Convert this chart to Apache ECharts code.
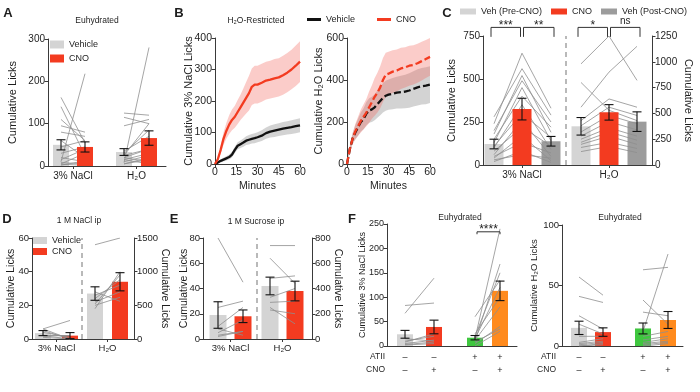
<!DOCTYPE html>
<html><head><meta charset="utf-8">
<script src="https://cdn.jsdelivr.net/npm/echarts@6/dist/echarts.min.js"></script>
<style>html,body{margin:0;padding:0;background:#fff}#c{width:700px;height:392px}</style>
</head><body><div id="c"></div>
<script>
// ================= DATA =================
const groupLabels = ['3% NaCl', 'H\u2082O'];
// Panel A (Euhydrated)
const aVehMean = [50, 33], aVehSem = [12, 8];
const aCnoMean = [45, 66], aCnoSem = [12, 17];
const aNaclVeh = [162, 140, 110, 95, 80, 60, 45, 30, 20, 15, 10, 8, 5, 4, 2];
const aNaclCno = [55, 25, 60, 80, 70, 20, 60, 45, 10, 40, 218, 5, 30, 2, 12];
const aH2oVeh = [125, 115, 95, 35, 25, 30, 25, 20, 15, 10, 8, 5, 20, 15, 5];
const aH2oCno = [120, 100, 110, 70, 100, 85, 40, 40, 30, 25, 280, 15, 10, 5, 20];
// Panel B (H2O-restricted time course)
const bMinutes = [0, 2, 4, 6, 8, 10, 12, 14, 16, 18, 20, 22, 24, 26, 28, 30, 33, 36, 39, 42, 45, 48, 51, 54, 57, 60];
const bNaclVeh = [0, 5, 10, 14, 18, 22, 30, 45, 58, 63, 68, 74, 77, 80, 82, 85, 90, 98, 103, 106, 109, 112, 115, 117, 120, 123];
const bNaclVehSem = [0, 3, 5, 6, 7, 8, 9, 10, 11, 12, 13, 14, 15, 15, 16, 16, 17, 18, 19, 20, 20, 21, 21, 22, 22, 22];
const bNaclCno = [0, 15, 45, 80, 105, 125, 140, 150, 165, 180, 195, 210, 225, 245, 252, 252, 258, 265, 268, 272, 275, 282, 290, 300, 312, 325];
const bNaclCnoSem = [0, 5, 12, 20, 25, 30, 33, 35, 38, 40, 45, 50, 55, 58, 60, 60, 60, 60, 60, 61, 61, 62, 62, 63, 64, 65];
const bH2oVeh = [0, 70, 120, 150, 175, 200, 215, 240, 255, 260, 270, 285, 300, 315, 325, 330, 335, 340, 342, 345, 350, 358, 365, 370, 373, 378];
const bH2oVehSem = [0, 15, 25, 35, 40, 45, 50, 55, 58, 60, 62, 65, 68, 70, 72, 72, 74, 76, 78, 80, 82, 84, 86, 87, 88, 88];
const bH2oCno = [0, 70, 120, 155, 180, 205, 225, 245, 270, 295, 320, 340, 365, 400, 425, 430, 440, 445, 455, 460, 468, 472, 480, 490, 500, 510];
const bH2oCnoSem = [0, 15, 25, 35, 45, 55, 60, 65, 75, 80, 90, 95, 100, 105, 105, 105, 102, 100, 98, 96, 95, 94, 93, 92, 91, 90];
// Panel C (NaCl on left axis, H2O on right axis)
const cPreMean = [122, 375], cPreSem = [28, 85];
const cCnoMean = [325, 510], cCnoSem = [63, 75];
const cPostMean = [138, 420], cPostSem = [28, 95];
const cNaclPre = [280, 240, 200, 180, 150, 130, 110, 100, 80, 60, 50, 40, 30, 20];
const cNaclCno = [560, 650, 490, 520, 400, 450, 300, 350, 220, 260, 130, 170, 60, 80];
const cNaclPost = [290, 330, 250, 190, 220, 140, 160, 90, 110, 50, 70, 25, 40, 15];
const cH2oPre = [980, 800, 560, 430, 380, 320, 280, 250, 220, 200, 170, 130];
const cH2oCno = [1250, 530, 900, 640, 560, 480, 420, 360, 320, 280, 220, 180];
const cH2oPost = [820, 430, 1150, 560, 480, 400, 340, 280, 240, 200, 160, 120];
const cSig = ['***', '**', '*', 'ns'];
// Panel D (1 M NaCl ip) NaCl left axis, H2O right axis
const dVehMean = [3.5, 675], dVehSem = [1.5, 100];
const dCnoMean = [2, 850], dCnoSem = [1.8, 135];
const dNaclVeh = [6, 5, 4, 6, 2, 1, 2, 2];
const dNaclCno = [11, 0, 1, 0, 0, 0, 2, 2];
const dH2oVeh = [1400, 450, 520, 600, 650, 700, 550, 500];
const dH2oCno = [1500, 1000, 950, 880, 800, 560, 700, 620];
// Panel E (1 M Sucrose ip)
const eVehMean = [19, 420], eVehSem = [10.5, 70];
const eCnoMean = [18, 380], eCnoSem = [5, 78];
const eNaclVeh = [80, 25, 10, 5, 3, 8, 2];
const eNaclCno = [45, 30, 25, 15, 6, 3, 6];
const eH2oVeh = [740, 640, 480, 330, 290, 230, 250];
const eH2oCno = [740, 440, 500, 400, 300, 200, 120];
// Panel F
const fAtii = ['\u2013', '\u2013', '+', '+'];
const fCno = ['\u2013', '+', '\u2013', '+'];
const f1Mean = [24, 39, 17, 113], f1Sem = [8, 14, 4.5, 20];
const f1Veh = [67, 83, 10, 8, 5, 15, 3, 2];
const f1Cno = [139, 88, 20, 25, 12, 10, 8, 5];
const f1Atii = [15, 10, 20, 60, 15, 25, 12, 5, 8, 0];
const f1AtiiCno = [240, 168, 150, 135, 120, 100, 80, 40, 35, 30];
const f2Mean = [15, 11.5, 14.5, 21.5], f2Sem = [5.5, 3.5, 4.5, 7];
const f2Veh = [57, 41, 25, 18, 8, 3, 2, 1, 0, 0];
const f2Cno = [42, 36, 14, 10, 8, 6, 4, 3, 2, 1];
const f2Atii = [63, 38, 28, 12, 8, 5, 3, 2, 1, 0];
const f2AtiiCno = [65, 18, 25, 76, 12, 8, 6, 4, 3, 2];

// ================= STYLE / BUILDERS =================
const FONT = "'Liberation Sans', Arial, Helvetica, sans-serif";
const INK = '#1e1e1e', AXIS = '#3a3a3a';
const COL = {veh: '#d4d4d4', cno: '#f33b20', post: '#9c9c9c', green: '#3fc73f', orange: '#ff8a1d', line: '#8e8e8e'};

const opt = {animation: false, backgroundColor: '#fff', textStyle: {fontFamily: FONT},
  grid: [], xAxis: [], yAxis: [], series: [], legend: [], graphic: []};

function addGrid(l, t, w, h) { opt.grid.push({left: l, top: t, width: w, height: h, containLabel: false}); return opt.grid.length - 1; }

function addY(g, c) {
  opt.yAxis.push({type: 'value', gridIndex: g, min: 0, max: c.max, interval: c.step, position: c.right ? 'right' : 'left',
    axisLine: {show: true, onZero: false, lineStyle: {color: AXIS, width: 1}},
    axisTick: {show: true, length: 3.5, lineStyle: {color: AXIS, width: 1}},
    axisLabel: {color: INK, fontSize: c.fs, margin: 3, fontFamily: FONT, formatter: function (v) { return String(v); }},
    splitLine: {show: false},
    name: c.name, nameLocation: 'middle', nameGap: c.gap, nameRotate: c.right ? -90 : 90, nameMoveOverlap: false,
    nameTextStyle: {color: INK, fontSize: c.nfs, fontFamily: FONT}});
  return opt.yAxis.length - 1;
}

function addXGroups(g, w, centers, labels, fs, lh) {
  opt.xAxis.push({type: 'value', gridIndex: g, min: 0, max: w,
    axisLine: {show: true, onZero: false, lineStyle: {color: AXIS, width: 1}},
    axisTick: {show: !lh, customValues: centers, length: 3, lineStyle: {color: AXIS}},
    axisLabel: {customValues: centers, color: INK, fontSize: fs, fontFamily: FONT, margin: lh ? 5 : 4,
      lineHeight: lh || fs + 2,
      formatter: function (v) { const i = centers.indexOf(v); return i < 0 ? '' : labels[i]; }},
    splitLine: {show: false}});
  return opt.xAxis.length - 1;
}

function addTimeX(g) {
  opt.xAxis.push({type: 'value', gridIndex: g, min: 0, max: 60, interval: 15,
    axisLine: {show: true, onZero: false, lineStyle: {color: AXIS, width: 1}},
    axisTick: {show: true, length: 3.5, lineStyle: {color: AXIS}},
    axisLabel: {color: INK, fontSize: 10.5, margin: 3, fontFamily: FONT},
    splitLine: {show: false},
    name: 'Minutes', nameLocation: 'middle', nameGap: 17, nameMoveOverlap: false,
    nameTextStyle: {color: INK, fontSize: 10.5, fontFamily: FONT}});
  return opt.xAxis.length - 1;
}

function addBars(name, x, y, xs, vals, color, w, z) {
  opt.series.push({type: 'bar', name: name, xAxisIndex: x, yAxisIndex: y, barWidth: w, barGap: '-100%', z: z, silent: true,
    itemStyle: {color: color}, data: xs.map((p, i) => [p, vals[i]])});
}

function errRender(p, api) {
  const x = api.value(0);
  const a = api.coord([x, api.value(1)]), b = api.coord([x, api.value(2)]);
  const c = 4.5, st = {stroke: '#111', lineWidth: 1.1};
  return {type: 'group', children: [
    {type: 'line', shape: {x1: a[0], y1: a[1], x2: b[0], y2: b[1]}, style: st},
    {type: 'line', shape: {x1: a[0] - c, y1: a[1], x2: a[0] + c, y2: a[1]}, style: st},
    {type: 'line', shape: {x1: b[0] - c, y1: b[1], x2: b[0] + c, y2: b[1]}, style: st}]};
}
function addErr(x, y, xs, means, sems) {
  opt.series.push({type: 'custom', xAxisIndex: x, yAxisIndex: y, z: 6, silent: true, clip: false,
    encode: {x: 0, y: [1, 2]}, renderItem: errRender,
    data: xs.map((p, i) => [p, means[i] - sems[i], means[i] + sems[i]])});
}

function addPairs(x, y, xs, arrays, z) {
  const n = arrays[0].length;
  for (let s = 0; s < n; s++) {
    opt.series.push({type: 'line', xAxisIndex: x, yAxisIndex: y, symbol: 'none', silent: true, z: z || 2,
      lineStyle: {color: COL.line, width: 0.8}, data: xs.map((p, k) => [p, arrays[k][s]])});
  }
}

function addSep(x, y, pos, max) {
  opt.series.push({type: 'line', xAxisIndex: x, yAxisIndex: y, symbol: 'none', silent: true, z: 1,
    lineStyle: {color: '#8a8a8a', width: 1.2, type: [5, 4]}, data: [[pos, 0], [pos, max]]});
}

function addBracket(x, y, x1, x2, top, leg, text, fs, dy) {
  opt.series.push({type: 'custom', xAxisIndex: x, yAxisIndex: y, z: 7, silent: true, clip: false,
    encode: {x: [0, 2], y: [1, 3]}, data: [[x1, top, x2, leg]],
    renderItem: function (p, api) {
      const a = api.coord([api.value(0), api.value(3)]), b = api.coord([api.value(0), api.value(1)]);
      const c = api.coord([api.value(2), api.value(1)]), d = api.coord([api.value(2), api.value(3)]);
      return {type: 'group', children: [
        {type: 'polyline', shape: {points: [a, b, c, d]}, style: {stroke: '#333', lineWidth: 1, fill: null}},
        {type: 'text', x: (b[0] + c[0]) / 2, y: b[1] + dy,
          style: {text: text, fill: INK, font: fs + 'px ' + FONT, textAlign: 'center', align: 'center',
            textVerticalAlign: 'bottom', verticalAlign: 'bottom'}}]};
    }});
}

function addBand(x, y, ts, mean, sem, fill) {
  const n = ts.length;
  opt.series.push({type: 'custom', xAxisIndex: x, yAxisIndex: y, z: 1, silent: true,
    encode: {x: 0, y: [1, 2]}, data: ts.map((t, i) => [t, mean[i] - sem[i], mean[i] + sem[i]]),
    renderItem: function (p, api) {
      if (p.dataIndex !== 0) return null;
      const up = [], lo = [];
      for (let i = 0; i < n; i++) {
        up.push(api.coord([api.value(0, i), api.value(2, i)]));
        lo.unshift(api.coord([api.value(0, i), api.value(1, i)]));
      }
      return {type: 'polygon', shape: {points: up.concat(lo)}, style: {fill: fill}};
    }});
}

function addMean(name, x, y, ts, vals, color, dashed) {
  opt.series.push({type: 'line', name: name, xAxisIndex: x, yAxisIndex: y, symbol: 'none', silent: true, z: 4,
    color: color, itemStyle: {color: color},
    lineStyle: {color: color, width: 2.3, type: dashed ? [7, 3] : 'solid'}, data: ts.map((t, i) => [t, vals[i]])});
}

function txt(x, y, s, size, bold, align) {
  opt.graphic.push({type: 'text', x: x, y: y, silent: true,
    style: {text: s, fill: INK, font: (bold ? 'bold ' : '') + size + 'px ' + FONT,
      textAlign: align || 'center', align: align || 'center', textVerticalAlign: 'middle', verticalAlign: 'middle'}});
}

function legend(cfg, names) {
  opt.legend.push(Object.assign({icon: 'rect', padding: 0, selectedMode: false, data: names,
    formatter: function (n) { return n.split('|')[1]; },
    textStyle: {fontSize: 9, color: INK, fontFamily: FONT}}, cfg));
}

// ================= PANEL A =================
const gA = addGrid(48, 39, 118, 127);
const posA = {veh: [13, 76], cno: [37, 101]};
const xA = addXGroups(gA, 118, [25, 88.5], groupLabels, 10);
const yA = addY(gA, {max: 300, step: 100, fs: 10, name: 'Cumulative Licks', gap: 30, nfs: 11});
addBars('A|Vehicle', xA, yA, posA.veh, aVehMean, COL.veh, 16, 1);
addPairs(xA, yA, [posA.veh[0], posA.cno[0]], [aNaclVeh, aNaclCno]);
addPairs(xA, yA, [posA.veh[1], posA.cno[1]], [aH2oVeh, aH2oCno]);
addBars('A|CNO', xA, yA, posA.cno, aCnoMean, COL.cno, 16, 3);
addErr(xA, yA, posA.veh, aVehMean, aVehSem);
addErr(xA, yA, posA.cno, aCnoMean, aCnoSem);
legend({left: 50, top: 40, orient: 'vertical', itemWidth: 14, itemHeight: 8, itemGap: 5}, ['A|Vehicle', 'A|CNO']);

// ================= PANEL B =================
const gB1 = addGrid(215, 38, 85, 126);
const xB1 = addTimeX(gB1);
const yB1 = addY(gB1, {max: 400, step: 100, fs: 10.5, name: 'Cumulative 3% NaCl Licks', gap: 21, nfs: 11});
addBand(xB1, yB1, bMinutes, bNaclVeh, bNaclVehSem, 'rgba(150,150,150,0.42)');
addBand(xB1, yB1, bMinutes, bNaclCno, bNaclCnoSem, 'rgba(242,100,90,0.33)');
addMean('B|Vehicle', xB1, yB1, bMinutes, bNaclVeh, '#111', false);
addMean('B|CNO', xB1, yB1, bMinutes, bNaclCno, COL.cno, false);

const gB2 = addGrid(347, 38, 83, 126);
const xB2 = addTimeX(gB2);
const yB2 = addY(gB2, {max: 600, step: 200, fs: 10.5, name: 'Cumulative H\u2082O Licks', gap: 23, nfs: 11});
addBand(xB2, yB2, bMinutes, bH2oVeh, bH2oVehSem, 'rgba(150,150,150,0.42)');
addBand(xB2, yB2, bMinutes, bH2oCno, bH2oCnoSem, 'rgba(242,100,90,0.33)');
addMean('B2|Vehicle', xB2, yB2, bMinutes, bH2oVeh, '#111', true);
addMean('B2|CNO', xB2, yB2, bMinutes, bH2oCno, COL.cno, true);
legend({left: 307, top: 15, orient: 'horizontal', itemWidth: 14, itemHeight: 3, itemGap: 22}, ['B|Vehicle', 'B|CNO']);

// ================= PANEL C =================
const gC = addGrid(483, 36, 169, 129);
const posC = {pre: [11, 98], cno: [39, 126], post: [68, 154]};
const xC = addXGroups(gC, 169, [39, 126], groupLabels, 10);
const yCL = addY(gC, {max: 750, step: 250, fs: 10, name: 'Cumulative Licks', gap: 26, nfs: 11});
const yCR = addY(gC, {max: 1250, step: 250, fs: 10, name: 'Cumulative Licks', gap: 31, nfs: 11, right: true});
addSep(xC, yCL, 83, 750);
addBars('C|Veh (Pre-CNO)', xC, yCL, [posC.pre[0]], [cPreMean[0]], COL.veh, 19, 1);
addBars('C|Veh (Pre-CNO)', xC, yCR, [posC.pre[1]], [cPreMean[1]], COL.veh, 19, 1);
addBars('C|Veh (Post-CNO)', xC, yCL, [posC.post[0]], [cPostMean[0]], COL.post, 19, 1);
addBars('C|Veh (Post-CNO)', xC, yCR, [posC.post[1]], [cPostMean[1]], COL.post, 19, 1);
addPairs(xC, yCL, [posC.pre[0], posC.cno[0], posC.post[0]], [cNaclPre, cNaclCno, cNaclPost]);
addPairs(xC, yCR, [posC.pre[1], posC.cno[1], posC.post[1]], [cH2oPre, cH2oCno, cH2oPost]);
addBars('C|CNO', xC, yCL, [posC.cno[0]], [cCnoMean[0]], COL.cno, 19, 3);
addBars('C|CNO', xC, yCR, [posC.cno[1]], [cCnoMean[1]], COL.cno, 19, 3);
addErr(xC, yCL, [posC.pre[0], posC.cno[0], posC.post[0]], [cPreMean[0], cCnoMean[0], cPostMean[0]], [cPreSem[0], cCnoSem[0], cPostSem[0]]);
addErr(xC, yCR, [posC.pre[1], posC.cno[1], posC.post[1]], [cPreMean[1], cCnoMean[1], cPostMean[1]], [cPreSem[1], cCnoSem[1], cPostSem[1]]);
addBracket(xC, yCL, 8, 37.5, 800, 745, cSig[0], 12, 4);
addBracket(xC, yCL, 40.5, 71, 800, 745, cSig[1], 12, 4);
addBracket(xC, yCL, 95, 124.5, 800, 745, cSig[2], 12, 4);
addBracket(xC, yCL, 127.5, 157, 800, 745, cSig[3], 10, -1);
legend({left: 460, top: 7, orient: 'horizontal', itemWidth: 16, itemHeight: 6, itemGap: 9}, ['C|Veh (Pre-CNO)', 'C|CNO', 'C|Veh (Post-CNO)']);

// ================= PANEL D =================
const gD = addGrid(32, 238, 102, 101);
const posD = {veh: [11, 63], cno: [38, 88]};
const xD = addXGroups(gD, 102, [24.5, 75.5], groupLabels, 9.5);
const yDL = addY(gD, {max: 60, step: 20, fs: 9.5, name: 'Cumulative Licks', gap: 15, nfs: 10.5});
const yDR = addY(gD, {max: 1500, step: 500, fs: 9.5, name: 'Cumulative Licks', gap: 25, nfs: 10.5, right: true});
addSep(xD, yDL, 50, 60);
addBars('D|Vehicle', xD, yDL, [posD.veh[0]], [dVehMean[0]], COL.veh, 16, 1);
addBars('D|Vehicle', xD, yDR, [posD.veh[1]], [dVehMean[1]], COL.veh, 16, 1);
addBars('D|CNO', xD, yDL, [posD.cno[0]], [dCnoMean[0]], COL.cno, 16, 1);
addBars('D|CNO', xD, yDR, [posD.cno[1]], [dCnoMean[1]], COL.cno, 16, 1);
addPairs(xD, yDL, [posD.veh[0], posD.cno[0]], [dNaclVeh, dNaclCno]);
addPairs(xD, yDR, [posD.veh[1], posD.cno[1]], [dH2oVeh, dH2oCno]);
addErr(xD, yDL, [posD.veh[0], posD.cno[0]], [dVehMean[0], dCnoMean[0]], [dVehSem[0], dCnoSem[0]]);
addErr(xD, yDR, [posD.veh[1], posD.cno[1]], [dVehMean[1], dCnoMean[1]], [dVehSem[1], dCnoSem[1]]);
legend({left: 33, top: 236, orient: 'vertical', itemWidth: 14, itemHeight: 7, itemGap: 2}, ['D|Vehicle', 'D|CNO']);

// ================= PANEL E =================
const gE = addGrid(203, 238, 109, 101);
const posE = {veh: [15, 67], cno: [40, 92]};
const xE = addXGroups(gE, 109, [27.5, 79.5], groupLabels, 9.5);
const yEL = addY(gE, {max: 80, step: 20, fs: 9.5, name: 'Cumulative Licks', gap: 13, nfs: 10.5});
const yER = addY(gE, {max: 800, step: 200, fs: 9.5, name: 'Cumulative Licks', gap: 20, nfs: 10.5, right: true});
addSep(xE, yEL, 54, 80);
addBars('E|Vehicle', xE, yEL, [posE.veh[0]], [eVehMean[0]], COL.veh, 17, 1);
addBars('E|Vehicle', xE, yER, [posE.veh[1]], [eVehMean[1]], COL.veh, 17, 1);
addBars('E|CNO', xE, yEL, [posE.cno[0]], [eCnoMean[0]], COL.cno, 17, 1);
addBars('E|CNO', xE, yER, [posE.cno[1]], [eCnoMean[1]], COL.cno, 17, 1);
addPairs(xE, yEL, [posE.veh[0], posE.cno[0]], [eNaclVeh, eNaclCno]);
addPairs(xE, yER, [posE.veh[1], posE.cno[1]], [eH2oVeh, eH2oCno]);
addErr(xE, yEL, [posE.veh[0], posE.cno[0]], [eVehMean[0], eCnoMean[0]], [eVehSem[0], eCnoSem[0]]);
addErr(xE, yER, [posE.veh[1], posE.cno[1]], [eVehMean[1], eCnoMean[1]], [eVehSem[1], eCnoSem[1]]);

// ================= PANEL F =================
const fSigns = fAtii.map((a, i) => a + '\n' + fCno[i]);
const fCols = [COL.veh, COL.cno, COL.green, COL.orange];
const gF1 = addGrid(387, 224, 130, 122);
const posF1 = [18, 47, 88, 113];
const xF1 = addXGroups(gF1, 130, posF1, fSigns, 9, 13);
const yF1 = addY(gF1, {max: 250, step: 50, fs: 9, name: 'Cumulative 3% NaCl Licks', gap: 20, nfs: 9});
posF1.forEach((p, i) => addBars('F1|' + i, xF1, yF1, [p], [f1Mean[i]], fCols[i], 16, 1));
addPairs(xF1, yF1, [posF1[0], posF1[1]], [f1Veh, f1Cno]);
addPairs(xF1, yF1, [posF1[2], posF1[3]], [f1Atii, f1AtiiCno]);
addErr(xF1, yF1, posF1, f1Mean, f1Sem);
addBracket(xF1, yF1, posF1[2] + 2, posF1[3], 234, 229, '****', 12, 4);

const gF2 = addGrid(562, 225, 121, 121);
const posF2 = [17, 41, 81, 106];
const xF2 = addXGroups(gF2, 121, posF2, fSigns, 9, 13);
const yF2 = addY(gF2, {max: 100, step: 50, fs: 9.5, name: 'Cumulative H\u2082O Licks', gap: 23, nfs: 9.5});
posF2.forEach((p, i) => addBars('F2|' + i, xF2, yF2, [p], [f2Mean[i]], fCols[i], 16, 1));
addPairs(xF2, yF2, [posF2[0], posF2[1]], [f2Veh, f2Cno]);
addPairs(xF2, yF2, [posF2[2], posF2[3]], [f2Atii, f2AtiiCno]);
addErr(xF2, yF2, posF2, f2Mean, f2Sem);

// ================= TEXT =================
txt(8, 13, 'A', 13, true); txt(179, 13, 'B', 13, true); txt(447, 13, 'C', 13, true);
txt(7, 219, 'D', 13, true); txt(174, 219, 'E', 13, true); txt(352, 219, 'F', 13, true);
txt(97, 21, 'Euhydrated', 8.5); txt(256, 21, 'H\u2082O-Restricted', 8.5);
txt(79, 221, '1 M NaCl ip', 8.5); txt(256, 222, '1 M Sucrose ip', 8.5);
txt(460, 218, 'Euhydrated', 8.5); txt(620, 218, 'Euhydrated', 8.5);
txt(385, 357, 'ATII', 8.5, false, 'right'); txt(385, 370, 'CNO', 8.5, false, 'right');
txt(556, 357, 'ATII', 8.5, false, 'right'); txt(556, 370, 'CNO', 8.5, false, 'right');

const chart = echarts.init(document.getElementById('c'), null, {renderer: 'canvas', width: 700, height: 392});
chart.setOption(opt);
</script></body></html>
